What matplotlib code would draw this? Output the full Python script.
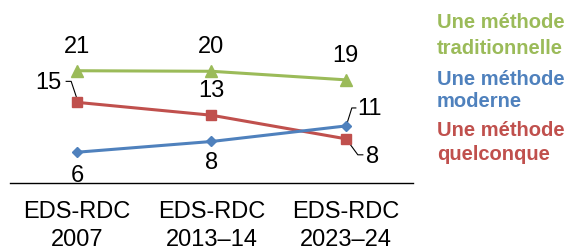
import matplotlib
matplotlib.use("Agg")
import matplotlib.pyplot as plt
from matplotlib.transforms import IdentityTransform

categories = ["EDS-RDC\n2007", "EDS-RDC\n2013–14", "EDS-RDC\n2023–24"]
traditionnelle = [21.0, 20.9, 19.3]
moderne = [5.8, 7.8, 10.7]
quelconque = [15.1, 12.7, 8.3]
labels_trad = ["21", "20", "19"]
labels_mod = ["6", "8", "11"]
labels_quel = ["15", "13", "8"]
legend_names = [["Une méthode", "traditionnelle"], ["Une méthode", "moderne"], ["Une méthode", "quelconque"]]

GREEN, BLUE, RED = "#9BBB59", "#4F81BD", "#C0504D"
plt.rcParams['font.family'] = ['Liberation Sans', 'DejaVu Sans']

W, H = 567, 250
fig = plt.figure(figsize=(W / 100, H / 100), dpi=100)
ax = fig.add_axes([10 / W, (H - 183.3) / H, 403 / W, 134 / H])
x = list(range(len(categories)))
ax.set_xlim(-0.5, 2.5)
ax.set_ylim(0, 25)

ax.plot(x, traditionnelle, color=GREEN, lw=2.2, marker="^", ms=8, zorder=3)
ax.plot(x, quelconque, color=RED, lw=2.2, marker="s", ms=7, zorder=3)
ax.plot(x, moderne, color=BLUE, lw=2.2, marker="D", ms=5.5, zorder=3)

for s in ["top", "right", "left"]:
    ax.spines[s].set_visible(False)
ax.spines["bottom"].set_linewidth(1.0)
ax.set_yticks([])
ax.set_xticks(x)
ax.set_xticklabels(categories, fontsize=17, linespacing=1.35)
ax.tick_params(axis="x", length=0, pad=13)

fs = 17
def lab(i, v, t, dx, dy):
    ax.annotate(t, xy=(i, v), xytext=(dx, dy), textcoords="offset pixels",
                ha="center", va="center", fontsize=fs, color="black")

for i, (v, t) in enumerate(zip(traditionnelle, labels_trad)):
    lab(i, v, t, 0, 24)
lab(0, quelconque[0], labels_quel[0], -29, 19)
lab(1, quelconque[1], labels_quel[1], 0, 24)
lab(2, quelconque[2], labels_quel[2], 27, -18)
lab(0, moderne[0], labels_mod[0], 0, -24)
lab(1, moderne[1], labels_mod[1], 0, -22)
lab(2, moderne[2], labels_mod[2], 24, 17)

fig.canvas.draw()
def leader(i, v, pts):
    px, py = ax.transData.transform((i, v))
    xs = [px + a for a, b in pts]
    ys = [py + b for a, b in pts]
    ax.add_line(plt.Line2D(xs, ys, transform=IdentityTransform(), color="black", lw=0.8))

leader(0, quelconque[0], [(-11, 21), (-6, 21), (0, 3)])
leader(2, moderne[2], [(10, 18), (6, 18), (1, 2)])
leader(2, quelconque[2], [(1, -1), (12, -16), (17, -16)])

line_ys = [[23, 48], [79, 102], [131, 155]]
for lines, c, yys in zip(legend_names, [GREEN, BLUE, RED], line_ys):
    for txt, yy in zip(lines, yys):
        fig.text(437 / W, 1 - yy / H, txt, color=c, fontsize=14.5, fontweight="bold",
                 ha="left", va="center")

fig.savefig("out.png", dpi=100)
